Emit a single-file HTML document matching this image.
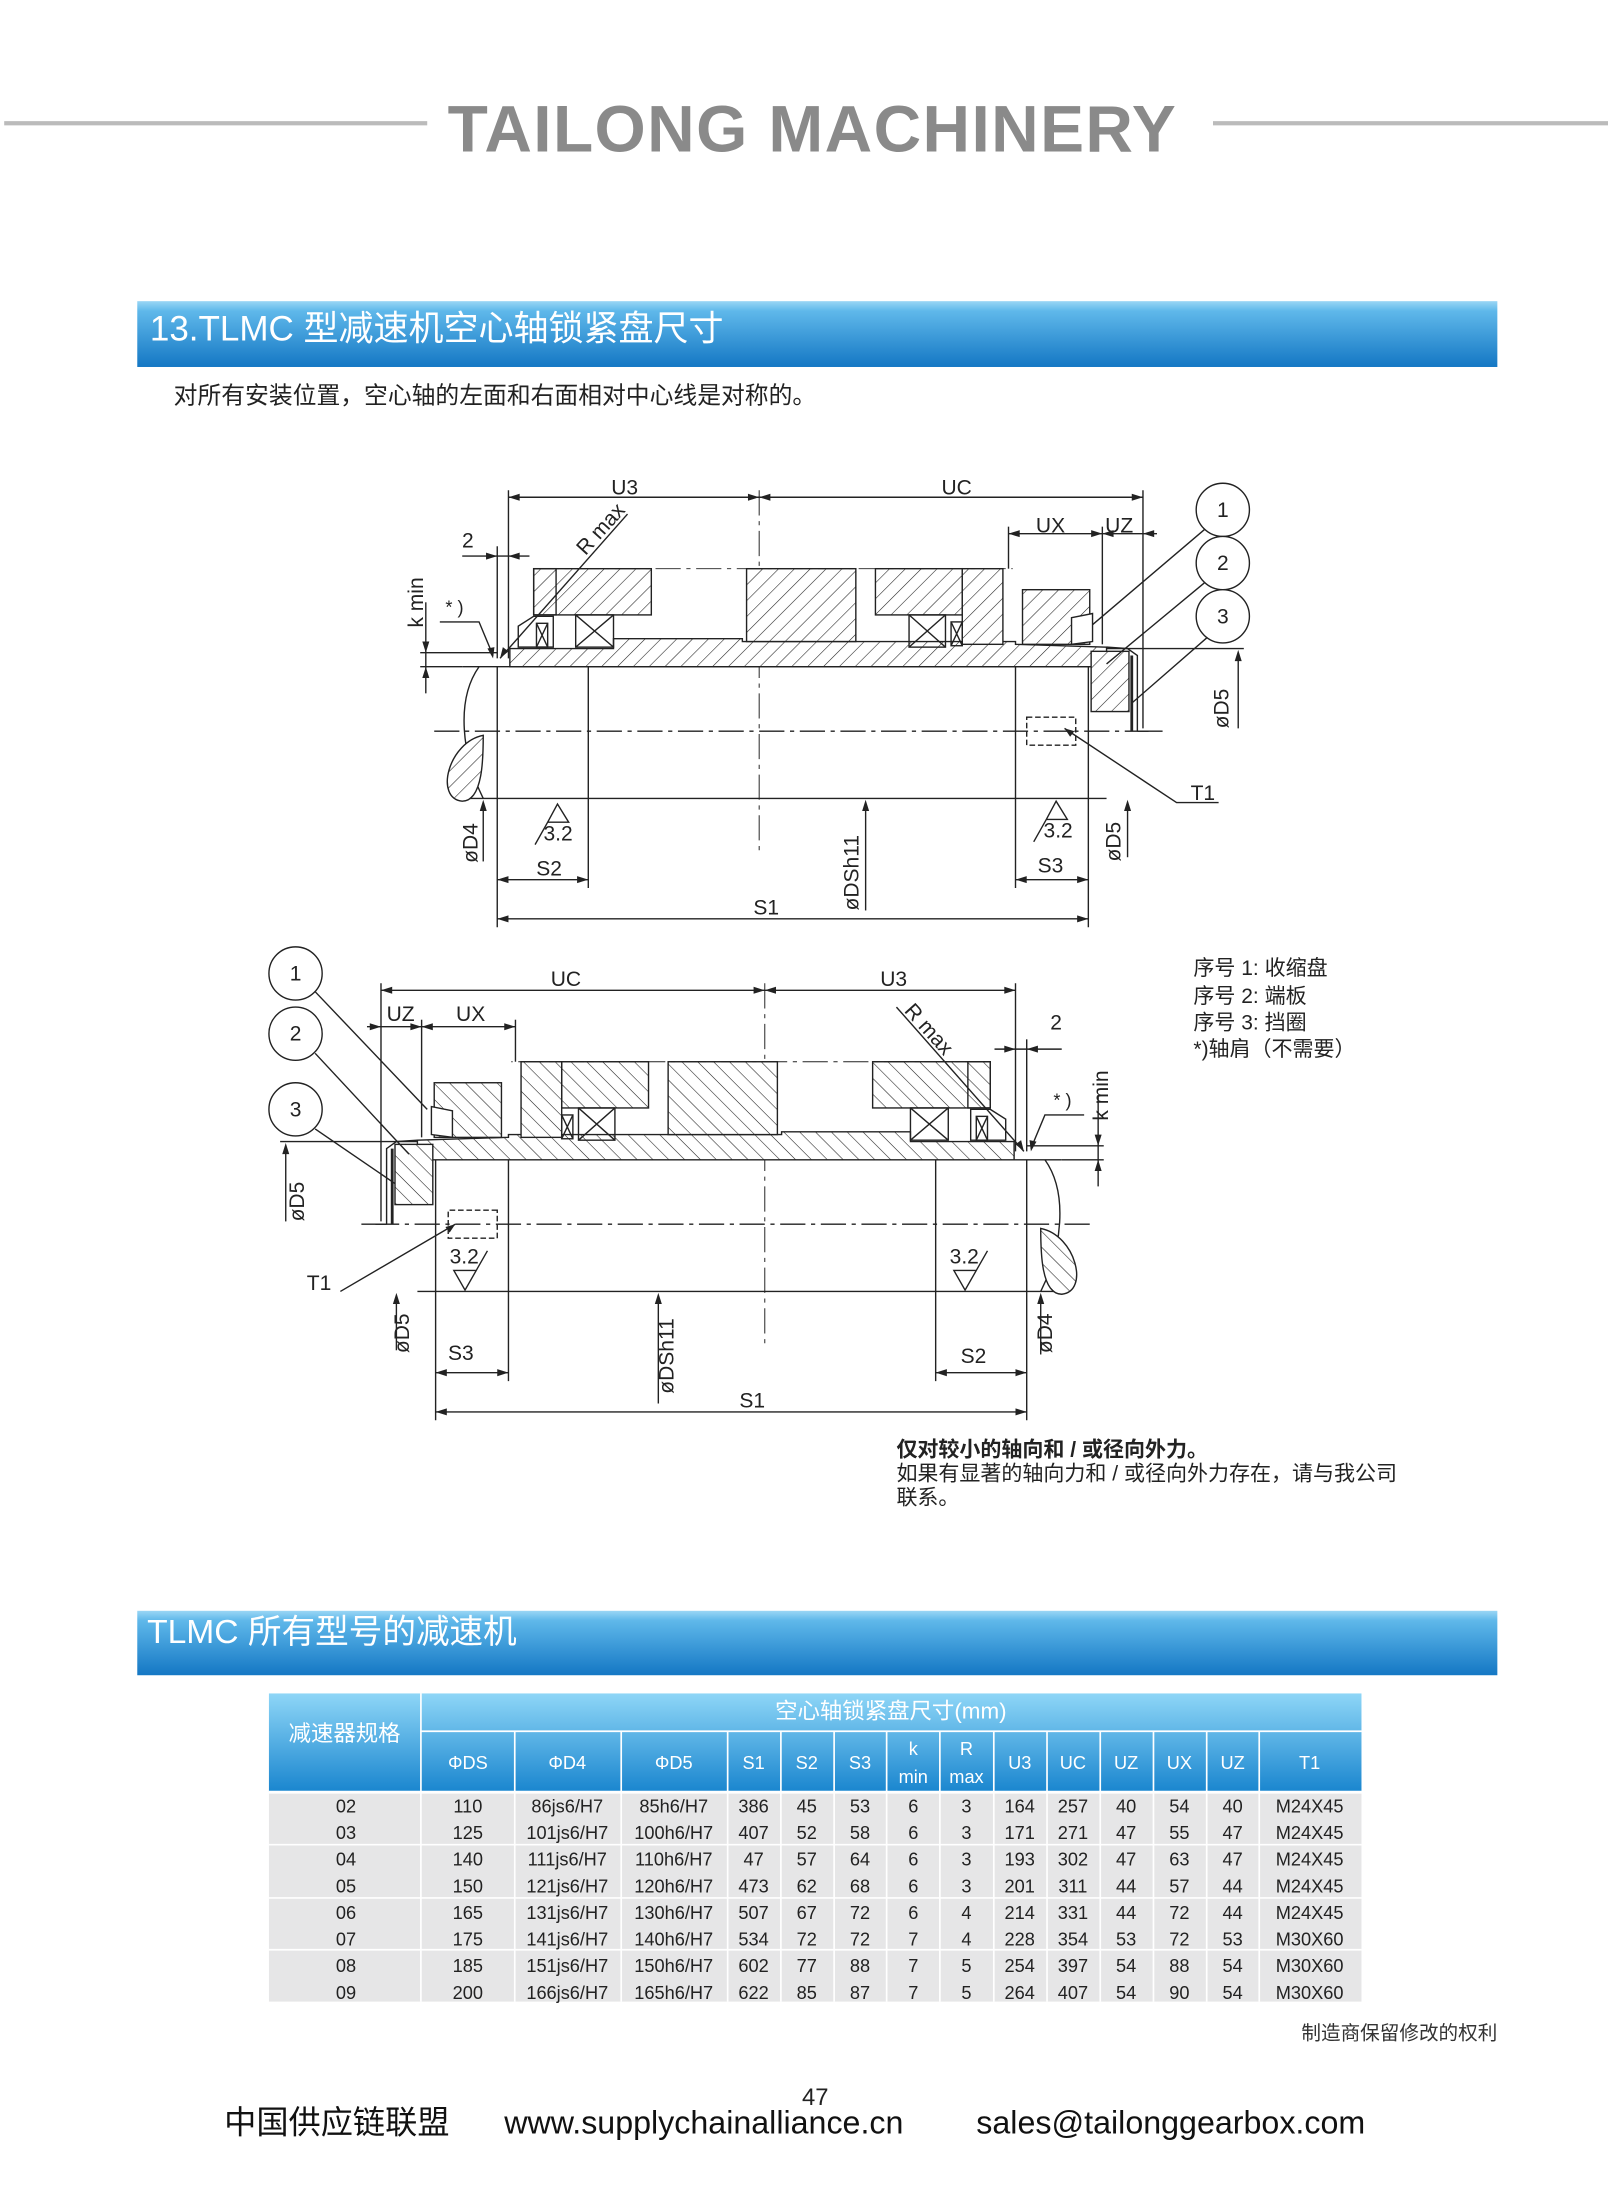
<!DOCTYPE html>
<html><head><meta charset="utf-8"><style>
html,body{margin:0;padding:0;background:#fff;}
svg{display:block;}
text{font-family:"Liberation Sans","Noto Sans CJK SC",sans-serif;}
</style></head><body>
<svg width="1608" height="2197" viewBox="0 0 1148 1568.5" xmlns="http://www.w3.org/2000/svg">
<defs>
<linearGradient id="bn" x1="0" y1="0" x2="0" y2="1">
<stop offset="0" stop-color="#9ad6f5"/><stop offset="0.15" stop-color="#5fb8ea"/><stop offset="1" stop-color="#1477c4"/></linearGradient>
<linearGradient id="th" x1="0" y1="0" x2="0" y2="1">
<stop offset="0" stop-color="#8ed6f7"/><stop offset="1" stop-color="#1a86cf"/></linearGradient>
<pattern id="h" patternUnits="userSpaceOnUse" width="8" height="8" patternTransform="rotate(45)">
<rect width="8" height="8" fill="#fff"/><line x1="0" y1="0" x2="0" y2="8" stroke="#222" stroke-width="0.8"/></pattern>
<g id="d" stroke="#222" stroke-width="1" fill="none">
<line x1="330" y1="476" x2="800" y2="476"/>
<line x1="330" y1="570" x2="790" y2="570"/>
<line x1="310" y1="522" x2="820" y2="522" stroke-dasharray="18,4,3,4"/>
<line x1="542" y1="350" x2="542" y2="610" stroke-dasharray="18,4,3,4" stroke-width="0.7"/>
<line x1="355" y1="476" x2="355" y2="662"/>
<line x1="420" y1="476" x2="420" y2="634"/>
<line x1="725" y1="476" x2="725" y2="634"/>
<line x1="777" y1="476" x2="777" y2="662"/>
<path d="M342,476 C325,500 330,540 345,570"/>
<path d="M345,525 C320,530 310,570 330,572 C345,572 345,540 345,525Z" fill="url(#h)"/>
<path d="M364,476 L364,463 L438,463 L438,456 L530,456 L530,458 L725,458 L725,460 L790,462 L790,476Z" fill="url(#h)"/>
<rect x="381" y="406" width="84" height="33" fill="url(#h)"/>
<rect x="381" y="406" width="16" height="33"/>
<rect x="411" y="439" width="27" height="23"/>
<path d="M411,439 L438,462 M438,439 L411,462"/>
<path d="M370,462 L370,447 L381,440 L395,440 L395,462Z"/>
<rect x="383" y="445" width="8" height="17"/>
<path d="M383,445 L391,462 M391,445 L383,462"/>
<rect x="533" y="406" width="78" height="52" fill="url(#h)"/>
<rect x="625" y="406" width="62" height="33" fill="url(#h)"/>
<rect x="687" y="406" width="29" height="54" fill="url(#h)"/>
<rect x="649" y="439" width="26" height="23"/>
<path d="M649,439 L675,462 M675,439 L649,462"/>
<rect x="679" y="444" width="8" height="17"/>
<path d="M679,444 L687,461 M687,444 L679,461"/>
<line x1="381" y1="406" x2="723" y2="406" stroke-dasharray="18,4,3,4" stroke-width="0.7"/>
<rect x="730" y="421" width="48" height="39" fill="url(#h)"/>
<path d="M765,441 L780,438 L780,458 L765,460Z" fill="#fff"/>
<rect x="779" y="465" width="27" height="43" fill="url(#h)"/>
<path d="M790,462 L805,463 L812,468 L812,522"/>
<line x1="808" y1="468" x2="808" y2="522" stroke-width="2"/>
<rect x="733" y="512" width="35" height="20" stroke-dasharray="4,2"/>
<line x1="363" y1="355" x2="816" y2="355"/>
<line x1="363" y1="350" x2="363" y2="470"/>
<line x1="816" y1="350" x2="816" y2="520"/>
<line x1="720" y1="381" x2="826" y2="381"/>
<line x1="720" y1="376" x2="720" y2="406"/>
<line x1="787" y1="376" x2="787" y2="460"/>
<line x1="330" y1="397" x2="378" y2="397"/>
<line x1="355" y1="390" x2="355" y2="470"/>
<line x1="300" y1="466" x2="355" y2="466"/>
<line x1="300" y1="476" x2="330" y2="476"/>
<line x1="304" y1="430" x2="304" y2="495"/>
<path d="M314,444 L342,444 L352,468"/>
<line x1="355" y1="628" x2="420" y2="628"/>
<line x1="725" y1="628" x2="777" y2="628"/>
<line x1="355" y1="656" x2="777" y2="656"/>
<line x1="345" y1="573" x2="345" y2="615"/>
<line x1="618" y1="573" x2="618" y2="650"/>
<line x1="805" y1="573" x2="805" y2="612"/>
<line x1="790" y1="463" x2="888" y2="463"/>
<line x1="884" y1="466" x2="884" y2="520"/>
<line x1="812" y1="522" x2="830" y2="522"/>
<line x1="448" y1="367" x2="357" y2="470"/>
<g fill="#222" stroke="none">
<path d="M363,355 l8,-2.5 l0,5Z M542,355 l-8,-2.5 l0,5Z M542,355 l8,-2.5 l0,5Z M816,355 l-8,-2.5 l0,5Z"/>
<path d="M720,381 l8,-2.5 l0,5Z M787,381 l-8,-2.5 l0,5Z M787,381 l8,-2.5 l0,5Z M816,381 l8,-2.5 l0,5Z"/>
<path d="M355,397 l-8,-2.5 l0,5Z M363,397 l8,-2.5 l0,5Z"/>
<path d="M304,466 l-2.5,-8 l5,0Z M304,476 l-2.5,8 l5,0Z M352,470 l-4,-7 l5,-1Z"/>
<path d="M355,628 l8,-2.5 l0,5Z M420,628 l-8,-2.5 l0,5Z M725,628 l8,-2.5 l0,5Z M777,628 l-8,-2.5 l0,5Z"/>
<path d="M355,656 l8,-2.5 l0,5Z M777,656 l-8,-2.5 l0,5Z"/>
<path d="M345,571 l-2.5,8 l5,0Z M618,571 l-2.5,8 l5,0Z M805,571 l-2.5,8 l5,0Z M884,464 l-2.5,8 l5,0Z M357,470 l2,-8 l4,3Z"/>
</g>
</g>
</defs>

<line x1="3" y1="88" x2="305" y2="88" stroke="#bbb" stroke-width="3"/>
<line x1="866" y1="88" x2="1148" y2="88" stroke="#bbb" stroke-width="3"/>
<text x="580" y="108" text-anchor="middle" font-size="47" font-weight="bold" fill="#8a8a8a" letter-spacing="1">TAILONG MACHINERY</text>

<rect x="98" y="215" width="971" height="47" fill="url(#bn)"/>
<text x="107" y="243" font-size="25" fill="#fff">13.TLMC 型减速机空心轴锁紧盘尺寸</text>
<text x="124" y="288" font-size="17" fill="#222">对所有安装位置，空心轴的左面和右面相对中心线是对称的。</text>

<use href="#d"/>
<g stroke="#222" stroke-width="1" fill="#fff">
<circle cx="873" cy="364" r="19"/><circle cx="873" cy="402" r="19"/><circle cx="873" cy="440" r="19"/>
<line x1="860" y1="378" x2="780" y2="446"/><line x1="860" y1="416" x2="790" y2="474"/><line x1="862" y1="455" x2="808" y2="502"/>
<path d="M760,520 L840,573 L870,573" fill="none"/>
<path d="M391,587 L398,574 L406,587Z M391,587 L382,603" fill="none"/>
<path d="M747,585 L754,572 L762,585Z M747,585 L738,601" fill="none"/>
<path d="M760,520 l7,2 l-3,4Z" fill="#222" stroke="none"/>
</g>
<g font-size="15" fill="#222">
<text x="446" y="353" text-anchor="middle">U3</text>
<text x="683" y="353" text-anchor="middle">UC</text>
<text x="750" y="380" text-anchor="middle">UX</text>
<text x="799" y="380" text-anchor="middle">UZ</text>
<text x="334" y="391" text-anchor="middle">2</text>
<text x="418" y="397" transform="rotate(-48 418 397)">R max</text>
<text x="302" y="448" transform="rotate(-90 302 448)">k min</text>
<text x="318" y="438" font-size="13">* )</text>
<text x="873" y="369" text-anchor="middle">1</text>
<text x="873" y="407" text-anchor="middle">2</text>
<text x="873" y="445" text-anchor="middle">3</text>
<text x="877" y="520" transform="rotate(-90 877 520)">øD5</text>
<text x="850" y="571">T1</text>
<text x="388" y="600">3.2</text>
<text x="745" y="598">3.2</text>
<text x="341" y="616" transform="rotate(-90 341 616)">øD4</text>
<text x="613" y="650" transform="rotate(-90 613 650)">øDSh11</text>
<text x="800" y="615" transform="rotate(-90 800 615)">øD5</text>
<text x="392" y="625" text-anchor="middle">S2</text>
<text x="750" y="623" text-anchor="middle">S3</text>
<text x="547" y="653" text-anchor="middle">S1</text>
</g>

<use href="#d" transform="translate(1088,352) scale(-1,1)"/>
<g stroke="#222" stroke-width="1" fill="#fff">
<circle cx="211" cy="695" r="19"/><circle cx="211" cy="738" r="19"/><circle cx="211" cy="792" r="19"/>
<line x1="225" y1="708" x2="305" y2="792"/><line x1="225" y1="752" x2="292" y2="824"/><line x1="225" y1="806" x2="282" y2="845"/>
<path d="M243,922 L325,874" fill="none"/>
<path d="M325,874 l-7,2 l3,4Z" fill="#222" stroke="none"/>
<path d="M324,907 L340,907 L332,921Z M340,907 L348,893" fill="none"/>
<path d="M681,907 L697,907 L689,921Z M697,907 L705,893" fill="none"/>
</g>
<g font-size="15" fill="#222">
<text x="404" y="704" text-anchor="middle">UC</text>
<text x="638" y="704" text-anchor="middle">U3</text>
<text x="286" y="729" text-anchor="middle">UZ</text>
<text x="336" y="729" text-anchor="middle">UX</text>
<text x="754" y="735" text-anchor="middle">2</text>
<text x="645" y="722" transform="rotate(48 645 722)">R max</text>
<text x="752" y="790" font-size="13">* )</text>
<text x="791" y="800" transform="rotate(-90 791 800)">k min</text>
<text x="211" y="700" text-anchor="middle">1</text>
<text x="211" y="743" text-anchor="middle">2</text>
<text x="211" y="797" text-anchor="middle">3</text>
<text x="217" y="872" transform="rotate(-90 217 872)">øD5</text>
<text x="219" y="921">T1</text>
<text x="321" y="902">3.2</text>
<text x="678" y="902">3.2</text>
<text x="292" y="966" transform="rotate(-90 292 966)">øD5</text>
<text x="481" y="995" transform="rotate(-90 481 995)">øDSh11</text>
<text x="751" y="966" transform="rotate(-90 751 966)">øD4</text>
<text x="329" y="971" text-anchor="middle">S3</text>
<text x="695" y="973" text-anchor="middle">S2</text>
<text x="537" y="1005" text-anchor="middle">S1</text>
</g>

<g font-size="15" fill="#222">
<text x="852" y="696">序号 1:  收缩盘</text>
<text x="852" y="716">序号 2:  端板</text>
<text x="852" y="735">序号 3:  挡圈</text>
<text x="852" y="754">*)轴肩（不需要）</text>
<text x="640" y="1040" font-weight="bold">仅对较小的轴向和 / 或径向外力。</text>
<text x="640" y="1057">如果有显著的轴向力和 / 或径向外力存在，请与我公司</text>
<text x="640" y="1074">联系。</text>
</g>

<rect x="98" y="1150" width="971" height="46" fill="url(#bn)"/>
<text x="105" y="1173" font-size="24" fill="#fff">TLMC 所有型号的减速机</text>

<rect x="192" y="1209" width="780" height="70" fill="url(#th)"/>
<rect x="192" y="1280" width="780" height="149" fill="#e6e6e7"/>
<g stroke="#fff" stroke-width="1.2">
<line x1="300" y1="1236" x2="972" y2="1236"/>
<line x1="192" y1="1279.5" x2="972" y2="1279.5" stroke-width="2"/>
<line x1="192" y1="1317" x2="972" y2="1317"/>
<line x1="192" y1="1355" x2="972" y2="1355"/>
<line x1="192" y1="1392" x2="972" y2="1392"/>
<line x1="300.5" y1="1209" x2="300.5" y2="1429"/>
<line x1="367.5" y1="1236" x2="367.5" y2="1429"/>
<line x1="443.5" y1="1236" x2="443.5" y2="1429"/>
<line x1="519.5" y1="1236" x2="519.5" y2="1429"/>
<line x1="557.5" y1="1236" x2="557.5" y2="1429"/>
<line x1="595.5" y1="1236" x2="595.5" y2="1429"/>
<line x1="633" y1="1236" x2="633" y2="1429"/>
<line x1="671" y1="1236" x2="671" y2="1429"/>
<line x1="709.5" y1="1236" x2="709.5" y2="1429"/>
<line x1="747.5" y1="1236" x2="747.5" y2="1429"/>
<line x1="785.5" y1="1236" x2="785.5" y2="1429"/>
<line x1="823.5" y1="1236" x2="823.5" y2="1429"/>
<line x1="861.5" y1="1236" x2="861.5" y2="1429"/>
<line x1="899" y1="1236" x2="899" y2="1429"/>
</g>
<g font-size="13" fill="#fff" text-anchor="middle">
<text x="246" y="1243" font-size="16">减速器规格</text>
<text x="636" y="1227" font-size="16">空心轴锁紧盘尺寸(mm)</text>
<text x="334" y="1263">ΦDS</text><text x="405" y="1263">ΦD4</text><text x="481" y="1263">ΦD5</text>
<text x="538" y="1263">S1</text><text x="576" y="1263">S2</text><text x="614" y="1263">S3</text>
<text x="652" y="1253">k</text><text x="652" y="1273">min</text>
<text x="690" y="1253">R</text><text x="690" y="1273">max</text>
<text x="728" y="1263">U3</text><text x="766" y="1263">UC</text><text x="804" y="1263">UZ</text>
<text x="842" y="1263">UX</text><text x="880" y="1263">UZ</text><text x="935" y="1263">T1</text>
</g>
<g font-size="13" fill="#222" text-anchor="middle">
<g transform="translate(0,1294)"><text x="247">02</text><text x="334">110</text><text x="405">86js6/H7</text><text x="481">85h6/H7</text><text x="538">386</text><text x="576">45</text><text x="614">53</text><text x="652">6</text><text x="690">3</text><text x="728">164</text><text x="766">257</text><text x="804">40</text><text x="842">54</text><text x="880">40</text><text x="935">M24X45</text></g>
<g transform="translate(0,1313)"><text x="247">03</text><text x="334">125</text><text x="405">101js6/H7</text><text x="481">100h6/H7</text><text x="538">407</text><text x="576">52</text><text x="614">58</text><text x="652">6</text><text x="690">3</text><text x="728">171</text><text x="766">271</text><text x="804">47</text><text x="842">55</text><text x="880">47</text><text x="935">M24X45</text></g>
<g transform="translate(0,1332)"><text x="247">04</text><text x="334">140</text><text x="405">111js6/H7</text><text x="481">110h6/H7</text><text x="538">47</text><text x="576">57</text><text x="614">64</text><text x="652">6</text><text x="690">3</text><text x="728">193</text><text x="766">302</text><text x="804">47</text><text x="842">63</text><text x="880">47</text><text x="935">M24X45</text></g>
<g transform="translate(0,1351)"><text x="247">05</text><text x="334">150</text><text x="405">121js6/H7</text><text x="481">120h6/H7</text><text x="538">473</text><text x="576">62</text><text x="614">68</text><text x="652">6</text><text x="690">3</text><text x="728">201</text><text x="766">311</text><text x="804">44</text><text x="842">57</text><text x="880">44</text><text x="935">M24X45</text></g>
<g transform="translate(0,1370)"><text x="247">06</text><text x="334">165</text><text x="405">131js6/H7</text><text x="481">130h6/H7</text><text x="538">507</text><text x="576">67</text><text x="614">72</text><text x="652">6</text><text x="690">4</text><text x="728">214</text><text x="766">331</text><text x="804">44</text><text x="842">72</text><text x="880">44</text><text x="935">M24X45</text></g>
<g transform="translate(0,1389)"><text x="247">07</text><text x="334">175</text><text x="405">141js6/H7</text><text x="481">140h6/H7</text><text x="538">534</text><text x="576">72</text><text x="614">72</text><text x="652">7</text><text x="690">4</text><text x="728">228</text><text x="766">354</text><text x="804">53</text><text x="842">72</text><text x="880">53</text><text x="935">M30X60</text></g>
<g transform="translate(0,1408)"><text x="247">08</text><text x="334">185</text><text x="405">151js6/H7</text><text x="481">150h6/H7</text><text x="538">602</text><text x="576">77</text><text x="614">88</text><text x="652">7</text><text x="690">5</text><text x="728">254</text><text x="766">397</text><text x="804">54</text><text x="842">88</text><text x="880">54</text><text x="935">M30X60</text></g>
<g transform="translate(0,1427)"><text x="247">09</text><text x="334">200</text><text x="405">166js6/H7</text><text x="481">165h6/H7</text><text x="538">622</text><text x="576">85</text><text x="614">87</text><text x="652">7</text><text x="690">5</text><text x="728">264</text><text x="766">407</text><text x="804">54</text><text x="842">90</text><text x="880">54</text><text x="935">M30X60</text></g>
</g>

<text x="1069" y="1456" text-anchor="end" font-size="14" fill="#333">制造商保留修改的权利</text>
<text x="582" y="1503" text-anchor="middle" font-size="17" fill="#222">47</text>
<text x="160" y="1523" font-size="23" fill="#111">中国供应链联盟</text>
<text x="360" y="1523" font-size="23" fill="#111">www.supplychainalliance.cn</text>
<text x="697" y="1523" font-size="23" fill="#111">sales@tailonggearbox.com</text>
</svg>
</body></html>
